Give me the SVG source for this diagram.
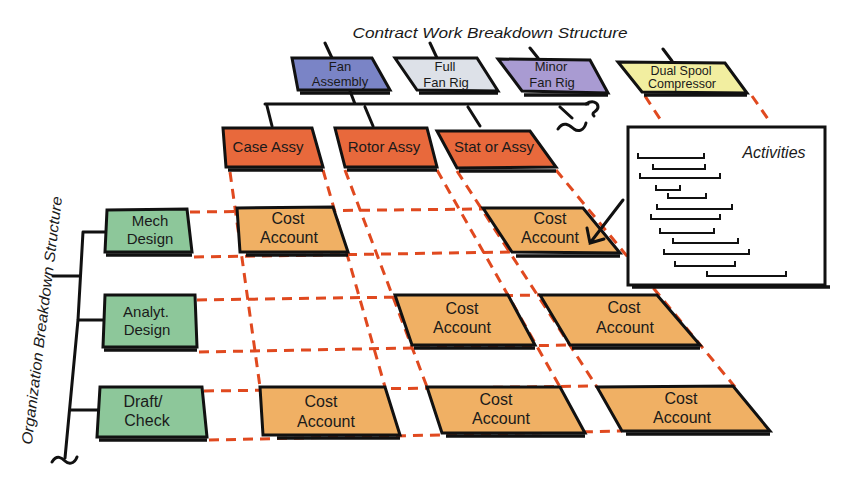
<svg xmlns="http://www.w3.org/2000/svg" width="856" height="484" viewBox="0 0 856 484">
<style>
.t{font-family:"Liberation Sans","DejaVu Sans",sans-serif;fill:#1a1a1a;text-anchor:middle}
.n{stroke:#111;stroke-width:3;stroke-linejoin:miter}
.sh{stroke:#111;stroke-width:3.5;fill:none}
.bl{stroke:#111;stroke-width:3;fill:none;stroke-linecap:round}
.d{stroke:#e0491f;stroke-width:3;fill:none;stroke-dasharray:10 7}
.bar{stroke:#111;stroke-width:2;fill:none}
.wb{fill:#dde1e8}.fa{fill:#7a84c6}.mf{fill:#a99bd2}.ds{fill:#f2eea0}
.or{fill:#e8693c}.ca{fill:#f0b064}.gr{fill:#8dc79a}
</style>
<rect width="856" height="484" fill="#fff"/>
<text class="t" x="490" y="38" font-size="15" textLength="275" lengthAdjust="spacingAndGlyphs" font-style="italic">Contract Work Breakdown Structure</text>
<text class="t" x="47" y="321" font-size="15" textLength="250" lengthAdjust="spacingAndGlyphs" font-style="italic" transform="rotate(-83 47 321)">Organization Breakdown Structure</text>
<g id="connectors">
  <g id="dashed">
    <path class="d" d="M230,172 L260,387"/>
    <path class="d" d="M323,170 L385,387"/>
    <path class="d" d="M345,170 L427,387"/>
    <path class="d" d="M437,170 L560,387"/>
    <path class="d" d="M457,171 L597,387"/>
    <path class="d" d="M556,170 L735,387"/>
    <path class="d" d="M645,96 L662,122"/>
    <path class="d" d="M752,96 L770,122"/>
    <path class="d" d="M190,212 L483,209"/>
    <path class="d" d="M194,257 L512,252"/>
    <path class="d" d="M197,300 L540,295"/>
    <path class="d" d="M199,352 L570,345"/>
    <path class="d" d="M204,391 L597,386"/>
    <path class="d" d="M209,440 L622,431"/>
  </g>
  <g id="tree">
    <path class="bl" d="M325,43 L332,58 M430,43 L437,58 M530,48 L538,58 M663,49 L672,61"/>
    <path class="bl" d="M350,91 L355,104 M265,104 L588,104 M267,106 L272,126 M365,107 L373,126 M468,107 L480,126 M560,107 L572,118"/>
    <path class="bl" d="M586,104 c6,-4 12,-2 12,3 c0,5 -8,5 -4,9" stroke-width="2.5"/>
    <path class="bl" d="M558,129 c6,-9 12,-3 16,0 c4,3 10,2 12,-6" stroke-width="2.5"/>
    <path class="bl" d="M83,232 L78,320 L65,458 M83,232 L106,232 M78,320 L103,320 M71,410 L98,410 M53,276 L80,276"/>
    <path class="bl" d="M52,462 c5,-8 10,-4 13,-1 c3,3 9,4 12,-4" stroke-width="2.5"/>
  </g>
</g>
<g id="fan-assembly"><polygon class="n fa" points="292,58 372,58 390,90 298,90"/><path class="sh" d="M300,93 H390"/><text class="t" x="340" y="71" font-size="13">Fan</text><text class="t" x="340" y="86" font-size="13">Assembly</text></g>
<g id="full-fan-rig"><polygon class="n wb" points="395,58 477,58 498,91 417,90"/><path class="sh" d="M419,93 H498"/><text class="t" x="445" y="71" font-size="13">Full</text><text class="t" x="446" y="87" font-size="13">Fan Rig</text></g>
<g id="minor-fan-rig"><polygon class="n mf" points="498,59 590,60 608,93 522,91"/><path class="sh" d="M524,95 H608"/><text class="t" x="551" y="71" font-size="13">Minor</text><text class="t" x="552" y="87" font-size="13">Fan Rig</text></g>
<g id="dual-spool"><polygon class="n ds" points="618,62 725,63 747,93 642,92"/><path class="sh" d="M644,95 H747"/><text class="t" x="681" y="75" font-size="12.5">Dual Spool</text><text class="t" x="682" y="88" font-size="12.5">Compressor</text></g>
<g id="case-assy"><polygon class="n or" points="223,128 312,128 323,167 226,167"/><path class="sh" d="M228,170 H323"/><text class="t" x="268" y="152" font-size="15">Case Assy</text></g>
<g id="rotor-assy"><polygon class="n or" points="335,128 427,128 437,167 345,167"/><path class="sh" d="M347,170 H437"/><text class="t" x="384" y="152" font-size="15">Rotor Assy</text></g>
<g id="stat-assy"><polygon class="n or" points="437,131 530,131 556,167 457,168"/><path class="sh" d="M459,171 H556"/><text class="t" x="494" y="152" font-size="15">Stat or Assy</text></g>
<g id="activities">
  <polygon points="628,127 825,127 825,285 628,285" fill="#fff" stroke="#111" stroke-width="3"/>
  <path class="sh" d="M632,287 H830"/>
  <text class="t" x="774" y="158" font-size="16" font-style="italic">Activities</text>
  <path class="bar" d="M638,153V158H704V153 M653,164V169H705V164 M640,173V178H720V173 M656,185V190H680V185 M668,193V198H706V193 M657,204V209H732V204 M651,214V219H720V214 M660,228V233H714V228 M673,238V243H738V238 M664,249V254H749V249 M675,261V266H735V261 M707,271V276H786V271"/>
</g>
<g id="mech-design"><polygon class="n gr" points="107,210 187,209 192,252 105,252"/><path class="sh" d="M106,255 H192"/><text class="t" x="150" y="226" font-size="15">Mech</text><text class="t" x="150" y="244" font-size="15">Design</text></g>
<g id="analyt-design"><polygon class="n gr" points="105,295 195,295 197,347 103,347"/><path class="sh" d="M104,350 H197"/><text class="t" x="146" y="317" font-size="15">Analyt.</text><text class="t" x="147" y="335" font-size="15">Design</text></g>
<g id="draft-check"><polygon class="n gr" points="100,387 202,387 207,437 97,437"/><path class="sh" d="M99,440 H207"/><text class="t" x="143" y="407" font-size="16">Draft/</text><text class="t" x="147" y="426" font-size="16">Check</text></g>
<g id="ca-case-mech"><polygon class="n ca" points="237,208 333,207 348,252 240,252"/><path class="sh" d="M246,255 H348"/><text class="t" x="288" y="224" font-size="16">Cost</text><text class="t" x="289" y="243" font-size="16">Account</text></g>
<g id="ca-stat-mech"><polygon class="n ca" points="483,208 583,208 620,253 512,252"/><path class="sh" d="M516,256 H620"/><text class="t" x="550" y="224" font-size="16">Cost</text><text class="t" x="550" y="243" font-size="16">Account</text></g>
<g id="ca-rotor-analyt"><polygon class="n ca" points="395,295 508,295 535,345 412,345"/><path class="sh" d="M414,348 H535"/><text class="t" x="462" y="314" font-size="16">Cost</text><text class="t" x="462" y="333" font-size="16">Account</text></g>
<g id="ca-stat-analyt"><polygon class="n ca" points="540,295 657,295 700,345 570,345"/><path class="sh" d="M572,348 H700"/><text class="t" x="624" y="313" font-size="16">Cost</text><text class="t" x="625" y="333" font-size="16">Account</text></g>
<g id="ca-case-draft"><polygon class="n ca" points="260,387 385,387 400,435 263,435"/><path class="sh" d="M277,438 H400"/><text class="t" x="321" y="407" font-size="16">Cost</text><text class="t" x="326" y="427" font-size="16">Account</text></g>
<g id="ca-rotor-draft"><polygon class="n ca" points="427,387 560,387 585,433 442,433"/><path class="sh" d="M446,436 H585"/><text class="t" x="496" y="405" font-size="16">Cost</text><text class="t" x="501" y="424" font-size="16">Account</text></g>
<g id="ca-stat-draft"><polygon class="n ca" points="597,387 733,386 770,431 622,431"/><path class="sh" d="M626,434 H770"/><text class="t" x="681" y="404" font-size="16">Cost</text><text class="t" x="682" y="423" font-size="16">Account</text></g>
<g id="activity-arrow">
  <path class="bl" d="M623,200 L590,243 M587,228 L590,243 L604,239"/>
</g>
</svg>
